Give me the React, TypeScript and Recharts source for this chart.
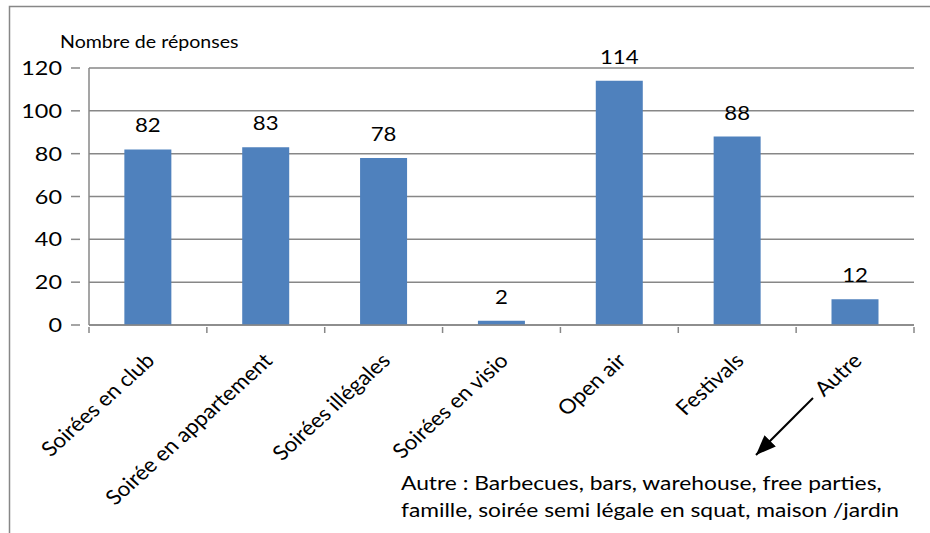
import React from 'react';
import { BarChart, Bar, XAxis, YAxis, CartesianGrid, LabelList } from 'recharts';

const categories = [
  'Soirées en club',
  'Soirée en appartement',
  'Soirées illégales',
  'Soirées en visio',
  'Open air',
  'Festivals',
  'Autre',
];
const responses = [82, 83, 78, 2, 114, 88, 12];
const yTicks = [0, 20, 40, 60, 80, 100, 120];
const noteLines = [
  'Autre : Barbecues, bars, warehouse, free parties,',
  'famille, soirée semi légale en squat, maison /jardin',
];

const data = categories.map((name, i) => ({ name, value: responses[i] }));

const FONT = 'Lato, "Open Sans", sans-serif';
const GRID = '#878787';
const BAR = '#4f81bd';
// the reference picture is a little stretched sideways
const SX = 1.2;

function CategoryTick(props: any) {
  const { x, y, payload, index, visibleTicksCount } = props;
  const half = Number(payload?.offset ?? 0);
  const last = index === (visibleTicksCount ?? categories.length) - 1;
  return (
    <g>
      <line x1={x - half} y1={y - 6} x2={x - half} y2={y} stroke={GRID} strokeWidth={1.5} />
      {last && <line x1={x + half} y1={y - 6} x2={x + half} y2={y} stroke={GRID} strokeWidth={1.5} />}
      <text
        transform={`translate(${x + 8},${y + 29}) scale(1.1,1) rotate(-45)`}
        textAnchor="end"
        fontSize={20.5}
        fontFamily={FONT}
        fill="#000"
      >
        {payload.value}
      </text>
    </g>
  );
}

function ValueTick(props: any) {
  const { x, y, payload } = props;
  return (
    <g>
      <line x1={x + 7} y1={y} x2={x + 16} y2={y} stroke={GRID} strokeWidth={1.5} />
      <text transform={`translate(${x - 2},${y + 7}) scale(${SX},1)`} textAnchor="end" fontSize={19.5} fontFamily={FONT} fill="#000">
        {payload.value}
      </text>
    </g>
  );
}

function ValueLabel(props: any) {
  const { x, y, width, value } = props;
  return (
    <text transform={`translate(${x + width / 2},${y - 17}) scale(${SX},1)`} textAnchor="middle" fontSize={18.5} fontFamily={FONT} fill="#000">
      {value}
    </text>
  );
}

export default function App() {
  return (
    <div style={{ position: 'fixed', left: 0, top: 0, width: 930, height: 533, background: '#fff', overflow: 'hidden', fontFamily: FONT }}>
      <BarChart
        width={930}
        height={533}
        data={data}
        margin={{ top: 68, right: 16, left: 0, bottom: 178 }}
        barCategoryGap="30%"
      >
        <CartesianGrid vertical={false} stroke={GRID} strokeWidth={1.5} />
        <XAxis
          dataKey="name"
          height={30}
          interval={0}
          axisLine={{ stroke: GRID, strokeWidth: 1.5 }}
          tickLine={false}
          tick={<CategoryTick />}
        />
        <YAxis
          width={89}
          domain={[0, 120]}
          ticks={yTicks}
          interval={0}
          tickSize={9}
          tickMargin={16}
          axisLine={{ stroke: GRID, strokeWidth: 1.5 }}
          tickLine={false}
          tick={<ValueTick />}
        />
        <Bar dataKey="value" fill={BAR} isAnimationActive={false}>
          <LabelList dataKey="value" content={<ValueLabel />} />
        </Bar>
      </BarChart>

      <svg width={930} height={533} style={{ position: 'absolute', left: 0, top: 0, pointerEvents: 'none' }}>
        <defs>
          <marker id="head" viewBox="0 0 20 16" refX="20" refY="8" markerWidth="20" markerHeight="16" markerUnits="userSpaceOnUse" orient="auto">
            <path d="M0,0 L20,8 L0,16 z" fill="#000" />
          </marker>
        </defs>
        <path d="M9.5,533 L9.5,6.5 L930,6.5" fill="none" stroke={GRID} strokeWidth={1.5} />
        <text transform={`translate(60,48) scale(1.1,1)`} fontSize={17.8} fontFamily={FONT} fill="#000">Nombre de réponses</text>
        <line x1={813} y1={398} x2={756} y2={455} stroke="#000" strokeWidth={2} markerEnd="url(#head)" />
        {noteLines.map((t, i) => (
          <text key={i} transform={`translate(401,${490 + i * 27}) scale(${SX},1)`} fontSize={19} fontFamily={FONT} fill="#000">{t}</text>
        ))}
      </svg>
    </div>
  );
}
